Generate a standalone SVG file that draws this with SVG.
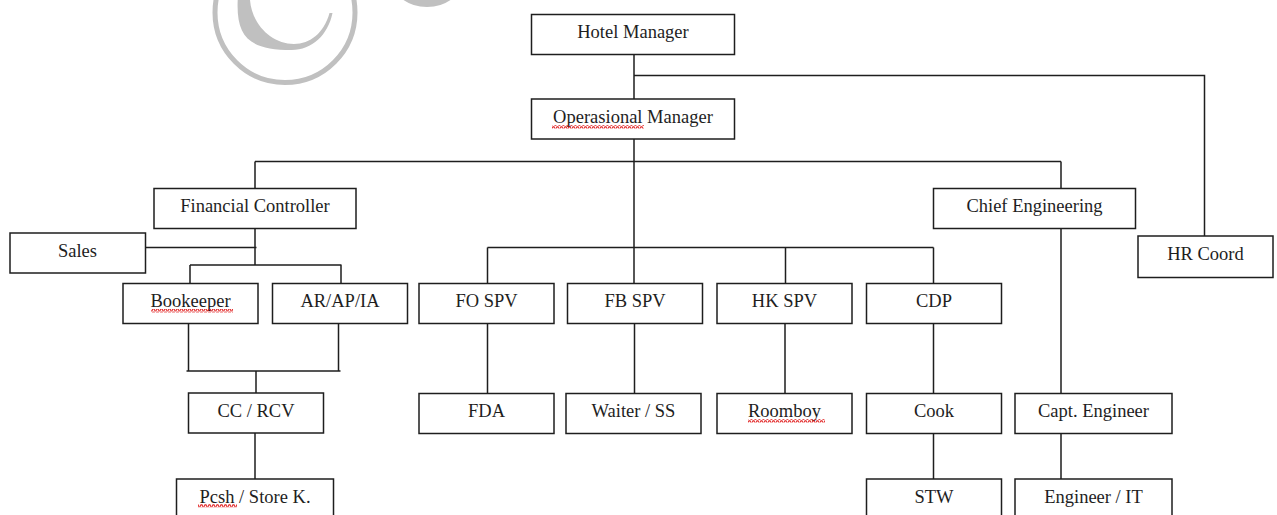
<svg xmlns="http://www.w3.org/2000/svg" width="1277" height="515" viewBox="0 0 1277 515">
<style>
.box{fill:#fff;stroke:#1e1e1e;stroke-width:1.5}
.lbl{font-family:"Liberation Serif","Times New Roman",serif;font-size:18.5px;fill:#1e1e1e;text-anchor:middle}
.con{fill:none;stroke:#1e1e1e;stroke-width:1.5}
.wm{fill:#c0c0c0}
.sq{fill:url(#squig)}
</style>
<defs>
<pattern id="squig" x="0" y="0" width="4" height="3.5" patternUnits="userSpaceOnUse">
<path d="M0 2.8 L1 0.7 L2 0.7 L3 2.8 L4 2.8" fill="none" stroke="#e01b1b" stroke-width="1.1"/>
</pattern>
</defs>
<rect width="1277" height="515" fill="#fff"/>
<g id="watermark">
<circle cx="285" cy="12.5" r="70" fill="none" stroke="#c0c0c0" stroke-width="5"/>
<path class="wm" d="M237.7 0 C236 38 250 50 291.7 50 C312 50 328 35 332.5 13 L329.5 13 C324 33 310 44 294 44 C272 44 252 25 250 0 Z"/>
<ellipse class="wm" cx="427" cy="-20" rx="35" ry="27"/>
</g>
<g id="connectors" class="con">
<path d="M634 54 V99"/>
<path d="M634 75.5 H1204.5 V236"/>
<path d="M634 139 V283.5"/>
<path d="M255 161.5 H1061 M255 161.5 V188.5 M1061 161.5 V188.5"/>
<path d="M255 228.5 V265 M145 247.5 H256.5 M190 265 H341.5 M190 265 V283.5 M341 265 V283.5"/>
<path d="M188.5 323.5 V371 M338.5 323.5 V371 M186.5 371 H340.5 M256 371 V393"/>
<path d="M255 433 V479"/>
<path d="M487.5 247.5 H933.5 M487.5 247.5 V283.5 M785.5 247.5 V283.5 M933.5 247.5 V283.5"/>
<path d="M487.5 323.5 V393.5 M634.5 323.5 V393.5 M785 323.5 V393.5 M933.5 323.5 V393.5 M933.5 433.5 V479"/>
<path d="M1061 228.5 V393.5 M1061 433.5 V479"/>
</g>
<g id="hotel-manager"><rect class="box" x="531.5" y="14.5" width="203" height="40"/><text class="lbl" x="633" y="38">Hotel Manager</text></g>
<g id="operasional-manager"><rect class="box" x="531.5" y="99" width="203" height="40"/><text class="lbl" x="633" y="123">Operasional Manager</text><rect class="sq" x="552" y="125" width="92" height="3.5"/></g>
<g id="financial-controller"><rect class="box" x="154" y="188.5" width="202" height="40"/><text class="lbl" x="255" y="212">Financial Controller</text></g>
<g id="chief-engineering"><rect class="box" x="933.5" y="188.5" width="202" height="40"/><text class="lbl" x="1034.5" y="212">Chief Engineering</text></g>
<g id="hr-coord"><rect class="box" x="1138" y="236" width="135" height="41.5"/><text class="lbl" x="1205.5" y="259.5">HR Coord</text></g>
<g id="sales"><rect class="box" x="10" y="233" width="135.5" height="40"/><text class="lbl" x="77.5" y="257">Sales</text></g>
<g id="bookeeper"><rect class="box" x="123" y="283.5" width="135" height="40"/><text class="lbl" x="190.5" y="307">Bookeeper</text><rect class="sq" x="151" y="309" width="82" height="3.5"/></g>
<g id="ar-ap-ia"><rect class="box" x="272.5" y="283.5" width="135" height="40"/><text class="lbl" x="340" y="307">AR/AP/IA</text></g>
<g id="cc-rcv"><rect class="box" x="188.5" y="393" width="135" height="40"/><text class="lbl" x="256" y="416.5">CC / RCV</text></g>
<g id="pcsh-store"><rect class="box" x="176.5" y="479" width="157" height="45"/><text class="lbl" x="255" y="502.5">Pcsh / Store K.</text><rect class="sq" x="198" y="504" width="39" height="3.5"/></g>
<g id="fo-spv"><rect class="box" x="419" y="283.5" width="135" height="40"/><text class="lbl" x="486.5" y="307">FO SPV</text></g>
<g id="fb-spv"><rect class="box" x="567.5" y="283.5" width="135" height="40"/><text class="lbl" x="635" y="307">FB SPV</text></g>
<g id="hk-spv"><rect class="box" x="717" y="283.5" width="135" height="40"/><text class="lbl" x="784.5" y="307">HK SPV</text></g>
<g id="cdp"><rect class="box" x="866.5" y="283.5" width="135" height="40"/><text class="lbl" x="934" y="307">CDP</text></g>
<g id="fda"><rect class="box" x="419" y="393.5" width="135" height="40"/><text class="lbl" x="486.5" y="417">FDA</text></g>
<g id="waiter-ss"><rect class="box" x="566" y="393.5" width="135" height="40"/><text class="lbl" x="633.5" y="417">Waiter / SS</text></g>
<g id="roomboy"><rect class="box" x="717" y="393.5" width="135" height="40"/><text class="lbl" x="784.5" y="417">Roomboy</text><rect class="sq" x="748" y="419" width="77" height="3.5"/></g>
<g id="cook"><rect class="box" x="866.5" y="393.5" width="135" height="40"/><text class="lbl" x="934" y="417">Cook</text></g>
<g id="capt-engineer"><rect class="box" x="1015" y="393.5" width="157" height="40"/><text class="lbl" x="1093.5" y="417">Capt. Engineer</text></g>
<g id="stw"><rect class="box" x="866.5" y="479" width="135" height="45"/><text class="lbl" x="934" y="502.5">STW</text></g>
<g id="engineer-it"><rect class="box" x="1015" y="479" width="157" height="45"/><text class="lbl" x="1093.5" y="502.5">Engineer / IT</text></g>
</svg>
